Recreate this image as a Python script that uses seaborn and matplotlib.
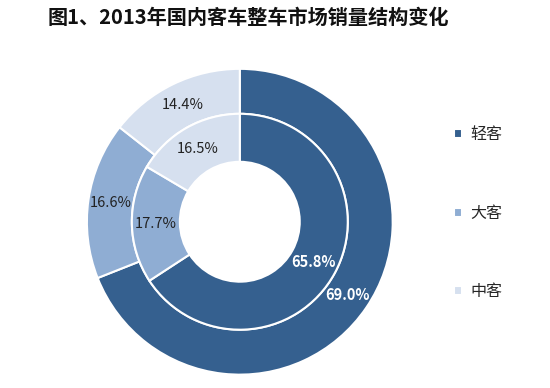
import matplotlib
matplotlib.use("Agg")
import matplotlib.pyplot as plt
import seaborn as sns

# data
categories = ['轻客', '大客', '中客']
outer_values = [69.0, 16.6, 14.4]   # outer ring
inner_values = [65.8, 17.7, 16.5]   # inner ring
title = '图1、2013年国内客车整车市场销量结构变化'

colors = sns.color_palette(['#35608F', '#8FADD3', '#D6E0EF'])

sns.set_style("white")
plt.rcParams['font.family'] = ['Noto Sans CJK SC', 'DejaVu Sans']

fig = plt.figure(figsize=(5.5, 3.88), dpi=100)
ax = fig.add_axes([0.158, 0.034, 0.556, 0.789])

wedge_style = dict(edgecolor='white', linewidth=1.5)

# outer ring
w_out, _, t_out = ax.pie(outer_values, radius=1.0, colors=colors, startangle=90,
                         counterclock=False, autopct='%.1f%%', pctdistance=0.85,
                         wedgeprops=dict(width=0.294, **wedge_style),
                         textprops=dict(fontsize=10.5, color='#222222'))
# inner ring
w_in, _, t_in = ax.pie(inner_values, radius=0.706, colors=colors, startangle=90,
                       counterclock=False, autopct='%.1f%%', pctdistance=0.78,
                       wedgeprops=dict(width=0.314, **wedge_style),
                       textprops=dict(fontsize=10.5, color='#222222'))

# labels on the dark slices are white and bold
for t in (t_out[0], t_in[0]):
    t.set_color('white')
    t.set_fontweight('bold')

ax.set_xlim(-1, 1)
ax.set_ylim(-1, 1)
ax.set_aspect('equal')

fig.text(0.452, 0.955, title, ha='center', va='center', fontsize=14.5,
         fontweight='bold', color='#111111')

leg = fig.legend(w_out, categories, loc='center left', bbox_to_anchor=(0.8, 0.45),
                 frameon=False, fontsize=11.5, handlelength=0.5, handleheight=0.5,
                 handletextpad=0.5, labelspacing=3.85)

plt.savefig('out.png', dpi=100)
